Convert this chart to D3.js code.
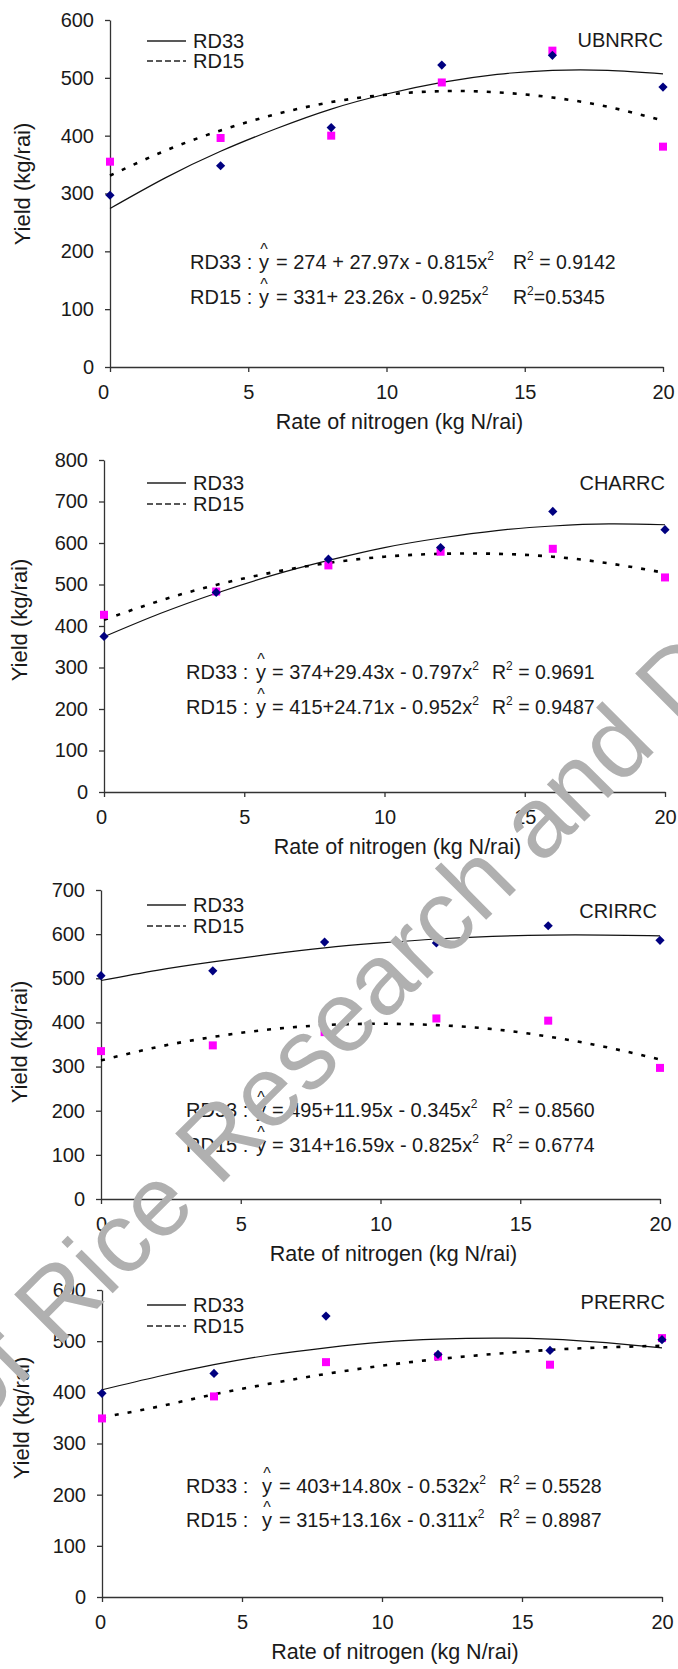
<!DOCTYPE html>
<html><head><meta charset="utf-8">
<script src="https://cdn.jsdelivr.net/npm/d3@7"></script>
<style>
body{margin:0;background:#fff}
svg text{font-family:"Liberation Sans",Arial,sans-serif}
</style>
</head><body>
<svg id="c" width="678" height="1669"></svg>
<script>
// ---------- data ----------
const rates = [0, 4, 8, 12, 16, 20];
const fitRates = [0, 2, 4, 6, 8, 10, 12, 14, 16, 18, 20];
const xTicks = [0, 5, 10, 15, 20];
const stations = ["UBNRRC", "CHARRC", "CRIRRC", "PRERRC"];
const yMaxes = [600, 800, 700, 600];
const yTicksUBN = [0, 100, 200, 300, 400, 500, 600];
const yTicksCHA = [0, 100, 200, 300, 400, 500, 600, 700, 800];
const yTicksCRI = [0, 100, 200, 300, 400, 500, 600, 700];
const yTicksPRE = [0, 100, 200, 300, 400, 500, 600];

// observed yields (kg/rai)
const ubnRD33 = [297, 348, 414, 522, 539, 484];
const ubnRD15 = [355, 396, 400, 492, 547, 381];
const chaRD33 = [375, 481, 561, 589, 676, 632];
const chaRD15 = [427, 483, 546, 579, 586, 517];
const criRD33 = [506, 517, 582, 580, 619, 586];
const criRD15 = [335, 348, 378, 409, 404, 297];
const preRD33 = [398, 437, 549, 474, 482, 503];
const preRD15 = [349, 392, 459, 470, 454, 506];

// trend curves (at fitRates)
const ubnFit33 = [274, 327, 373, 412, 446, 472, 492, 506, 513, 513, 507];
const ubnFit15 = [331, 374, 409, 437, 458, 471, 477, 475, 466, 450, 426];
const chaFit33 = [374, 430, 479, 522, 558, 589, 612, 630, 641, 646, 644];
const chaFit15 = [415, 461, 499, 529, 552, 567, 574, 574, 567, 551, 528];
const criFit33 = [495, 518, 537, 554, 569, 580, 589, 595, 598, 598, 596];
const criFit15 = [314, 344, 367, 384, 394, 397, 394, 385, 368, 345, 316];
const preFit33 = [405, 431, 454, 473, 487, 498, 504, 506, 504, 497, 487];
const preFit15 = [351, 372, 396, 417, 436, 452, 465, 475, 483, 488, 491];

// equation texts
const eq33 = ["= 274 + 27.97x - 0.815x", "= 374+29.43x - 0.797x", "= 495+11.95x - 0.345x", "= 403+14.80x - 0.532x"];
const eq15 = ["= 331+ 23.26x - 0.925x", "= 415+24.71x - 0.952x", "= 314+16.59x - 0.825x", "= 315+13.16x - 0.311x"];
const r2RD33 = [" = 0.9142", " = 0.9691", " = 0.8560", " = 0.5528"];
const r2RD15 = ["=0.5345", " = 0.9487", " = 0.6774", " = 0.8987"];
const legendNames = ["RD33", "RD15"];
const xTitle = "Rate of nitrogen (kg N/rai)";
const yTitle = "Yield (kg/rai)";

// ---------- layout ----------
const panels = [
  {L:110, R:663, T:20,   B:367,  ticks:yTicksUBN, s33:ubnRD33, s15:ubnRD15, f33:ubnFit33, f15:ubnFit15,
   eqOff:[98,63], eqX:[190,259,276,513], lab:[663,47], leg:[41,61], yt:[30,184], dx0:-7},
  {L:104, R:665, T:460,  B:792,  ticks:yTicksCHA, s33:chaRD33, s15:chaRD15, f33:chaFit33, f15:chaFit15,
   eqOff:[113,78], eqX:[186,256,272,492], lab:[665,490], leg:[483,504], yt:[27,620], dx0:-3},
  {L:101, R:660, T:890,  B:1199, ticks:yTicksCRI, s33:criRD33, s15:criRD15, f33:criFit33, f15:criFit15,
   eqOff:[82,47], eqX:[186,256,272,492], lab:[657,918], leg:[905,926], yt:[27,1042], dx0:0},
  {L:102, R:662, T:1290, B:1597, ticks:yTicksPRE, s33:preRD33, s15:preRD15, f33:preFit33, f15:preFit15,
   eqOff:[104,70], eqX:[186,262,279,499], lab:[665,1309], leg:[1305,1326], yt:[29,1418], dx0:-2}
];

const svg = d3.select("#c");
const AX = "#333", TXT = "#1a1a1a";

panels.forEach((p, i) => {
  const g = svg.append("g");
  const x = d3.scaleLinear().domain([0, 20]).range([p.L, p.R]);
  const y = d3.scaleLinear().domain([0, yMaxes[i]]).range([p.B, p.T]);

  const ya = g.append("g").attr("transform", `translate(${p.L},0)`)
    .call(d3.axisLeft(y).tickValues(p.ticks).tickSize(5).tickSizeOuter(0).tickPadding(11));
  const xa = g.append("g").attr("transform", `translate(0,${p.B})`)
    .call(d3.axisBottom(x).tickValues(xTicks).tickSize(5).tickSizeOuter(0).tickPadding(13));
  [ya, xa].forEach(a => {
    a.attr("font-size", 20).attr("font-family", null);
    a.selectAll("path,line").attr("stroke", AX).attr("stroke-width", 1.3);
    a.selectAll("text").attr("fill", TXT);
  });
  xa.selectAll(".tick text").filter(d => d === 0).attr("dx", p.dx0);

  // titles
  g.append("text").attr("x", (p.L + p.R) / 2 + 13).attr("y", p.B + 62)
    .attr("text-anchor", "middle").attr("font-size", 21.5).attr("fill", TXT).text(xTitle);
  g.append("text").attr("transform", `translate(${p.yt[0]},${p.yt[1]}) rotate(-90)`)
    .attr("text-anchor", "middle").attr("font-size", 22).attr("fill", TXT).text(yTitle);

  // trend curves
  const line = d3.line().x((d, k) => x(fitRates[k])).y(d => y(d)).curve(d3.curveNatural);
  g.append("path").datum(p.f33).attr("d", line).attr("fill", "none")
    .attr("stroke", "#111").attr("stroke-width", 1.2);
  g.append("path").datum(p.f15).attr("d", line).attr("fill", "none")
    .attr("stroke", "#000").attr("stroke-width", 2.6).attr("stroke-dasharray", "4 9");

  // points
  g.selectAll(".sq").data(p.s15).join("rect")
    .attr("x", (d, k) => x(rates[k]) - 4).attr("y", d => y(d) - 4)
    .attr("width", 8).attr("height", 8).attr("fill", "#ff00ff");
  g.selectAll(".dm").data(p.s33).join("path")
    .attr("d", (d, k) => {
      const cx = x(rates[k]), cy = y(d), r = 4.6;
      const pa = d3.path();
      pa.moveTo(cx, cy - r); pa.lineTo(cx + r, cy); pa.lineTo(cx, cy + r); pa.lineTo(cx - r, cy); pa.closePath();
      return pa.toString();
    }).attr("fill", "#000080");

  // legend
  g.append("line").attr("x1", 147).attr("x2", 186).attr("y1", p.leg[0]).attr("y2", p.leg[0])
    .attr("stroke", "#222").attr("stroke-width", 1.3);
  g.append("line").attr("x1", 147).attr("x2", 186).attr("y1", p.leg[1]).attr("y2", p.leg[1])
    .attr("stroke", "#222").attr("stroke-width", 1.3).attr("stroke-dasharray", "6 3");
  legendNames.forEach((n, k) => {
    g.append("text").attr("x", 193).attr("y", p.leg[k] + 7).attr("font-size", 20).attr("fill", TXT).text(n);
  });

  // station label
  g.append("text").attr("x", p.lab[0]).attr("y", p.lab[1]).attr("text-anchor", "end")
    .attr("font-size", 20).attr("fill", TXT).text(stations[i]);

  // equations
  const eqs = [[legendNames[0] + " :", eq33[i], r2RD33[i]], [legendNames[1] + " :", eq15[i], r2RD15[i]]];
  eqs.forEach((e, k) => {
    const by = p.B - p.eqOff[k];
    const [xl, xy, xe, xr] = p.eqX;
    g.append("text").attr("x", xl).attr("y", by).attr("font-size", 20).attr("fill", TXT).text(e[0]);
    g.append("text").attr("x", xy).attr("y", by).attr("font-size", 20).attr("fill", TXT).text("y");
    g.append("text").attr("x", xy + 5).attr("y", by - 14).attr("text-anchor", "middle")
      .attr("font-size", 16).attr("fill", TXT).text("^");
    const t = g.append("text").attr("x", xe).attr("y", by).attr("font-size", 20).attr("fill", TXT);
    t.append("tspan").text(e[1]);
    t.append("tspan").attr("font-size", 12).attr("dy", -9).text("2");
    const r = g.append("text").attr("x", xr).attr("y", by).attr("font-size", 19.5).attr("fill", TXT);
    r.append("tspan").text("R");
    r.append("tspan").attr("font-size", 12).attr("dy", -9).text("2");
    r.append("tspan").attr("dy", 9).text(e[2]);
  });
});

// watermark
const wm = svg.append("text").attr("font-size", 100).attr("fill", "#b0b0b0")
  .attr("transform", "translate(218,1188) rotate(-45)")
  .text("Bureau of Rice Research and Development");
const off = wm.node().getSubStringLength(0, 15);
wm.attr("x", -off);
</script>
</body></html>
